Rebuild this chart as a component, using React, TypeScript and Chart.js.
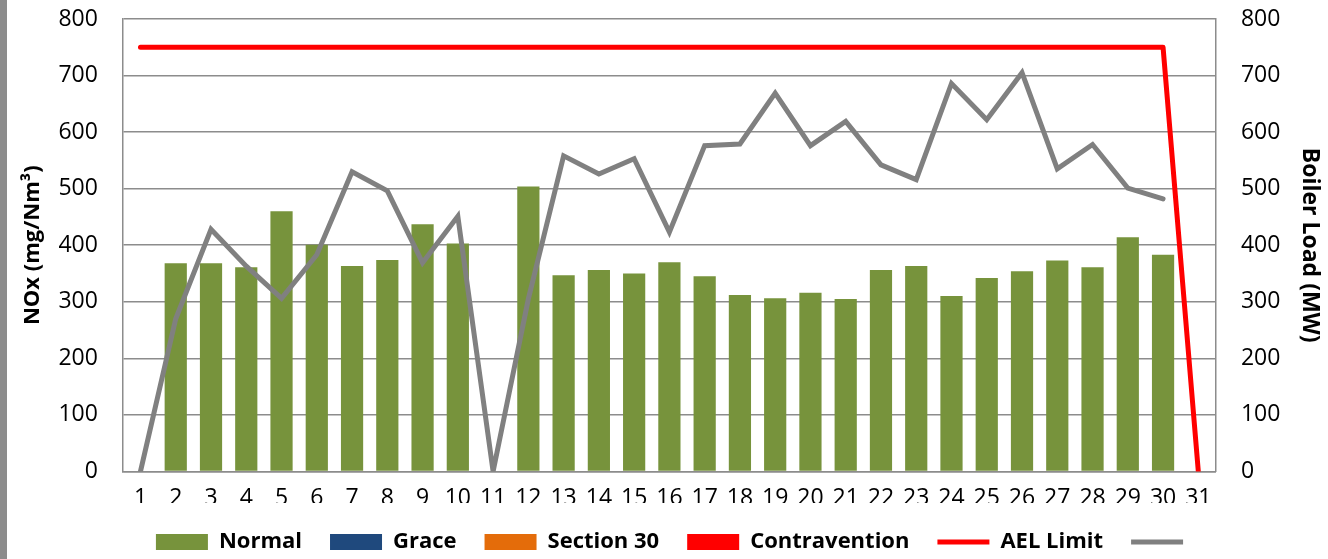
import React, { useEffect, useRef } from "react";
import { Chart, registerables } from "chart.js";

Chart.register(...registerables);

const days = ["1","2","3","4","5","6","7","8","9","10","11","12","13","14","15","16","17","18","19","20","21","22","23","24","25","26","27","28","29","30","31"];
const normal = [null,368,368,361,460,401,363,374,437,403,null,504,347,356,350,370,345,312,306,316,305,356,363,310,342,354,373,361,414,383,null];
const grace: (number | null)[] = days.map(() => null);
const section30: (number | null)[] = days.map(() => null);
const contravention: (number | null)[] = days.map(() => null);
const aelLimit = [750,750,750,750,750,750,750,750,750,750,750,750,750,750,750,750,750,750,750,750,750,750,750,750,750,750,750,750,750,750,0];
const boilerLoad = [0,270,428,363,306,383,530,496,369,451,0,305,558,526,553,423,576,579,669,576,619,542,516,686,622,705,535,578,501,482,null];

const FONT = "'Open Sans', 'DejaVu Sans', sans-serif";
const GRID = "#8c8c8c";

const legendShift = {
  id: "legendShift",
  afterLayout(chart: any) {
    if (chart.legend) {
      chart.legend.left += 5;
      chart.legend.right += 5;
    }
  },
};

export default function App() {
  const ref = useRef<HTMLCanvasElement>(null);
  useEffect(() => {
    const ctx = ref.current!.getContext("2d")!;
    const chart = new Chart(ctx, {
      type: "bar",
      data: {
        labels: days,
        datasets: [
          { type: "bar", label: "Normal", data: normal, backgroundColor: "#77933C", borderWidth: 0, grouped: false, order: 1, yAxisID: "y", pointStyle: "rect" } as any,
          { type: "bar", label: "Grace", data: grace, backgroundColor: "#1F497D", borderWidth: 0, grouped: false, order: 1, yAxisID: "y", pointStyle: "rect" } as any,
          { type: "bar", label: "Section 30", data: section30, backgroundColor: "#E46C0A", borderWidth: 0, grouped: false, order: 1, yAxisID: "y", pointStyle: "rect" } as any,
          { type: "bar", label: "Contravention", data: contravention, backgroundColor: "#FF0000", borderWidth: 0, grouped: false, order: 1, yAxisID: "y", pointStyle: "rect" } as any,
          { type: "line", label: "AEL Limit", data: aelLimit, borderColor: "#FF0000", backgroundColor: "#FF0000", borderWidth: 5, pointRadius: 0, tension: 0, order: 0, yAxisID: "y", pointStyle: "line", borderCapStyle: "round", borderJoinStyle: "round" } as any,
          { type: "line", label: "", data: boilerLoad, borderColor: "#808080", backgroundColor: "#808080", borderWidth: 5, pointRadius: 0, tension: 0, order: 0, yAxisID: "y1", pointStyle: "line", borderCapStyle: "round", borderJoinStyle: "miter", spanGaps: false } as any,
        ],
      },
      options: {
        animation: false,
        responsive: false,
        maintainAspectRatio: false,
        layout: { padding: { left: 8, right: 3, top: 19, bottom: -4 } },
        datasets: { bar: { barPercentage: 0.63, categoryPercentage: 1 } },
        plugins: {
          tooltip: { enabled: false },
          legend: {
            position: "bottom",
            labels: {
              usePointStyle: true,
              pointStyleWidth: 52,
              boxHeight: 16,
              boxWidth: 52,
              padding: 28,
              color: "#000",
              font: { family: FONT, size: 22, weight: "bold" },
              sort: (a: any, b: any) => a.datasetIndex - b.datasetIndex,
            },
          },
        },
        scales: {
          x: {
            offset: true,
            grid: { display: false, drawTicks: false },
            border: { display: true, color: GRID, width: 1.5 },
            ticks: { color: "#000", font: { family: FONT, size: 23 }, padding: 13, maxRotation: 0, autoSkip: false },
            afterFit: (s: any) => { s.height -= 22; },
          },
          y: {
            position: "left",
            min: 0,
            max: 800,
            ticks: { stepSize: 100, color: "#000", font: { family: FONT, size: 23 }, padding: 25 },
            grid: { color: GRID, lineWidth: 1.5, drawTicks: false },
            border: { display: true, color: GRID, width: 1.5 },
            title: { display: true, text: "NOx (mg/Nm³)", color: "#000", font: { family: FONT, size: 22, weight: "bold" }, padding: { top: 5, bottom: 14 } },
            afterFit: (s: any) => { s.width -= 27; s.paddingTop = 0; s.paddingBottom = 0; },
          },
          y1: {
            position: "right",
            min: 0,
            max: 800,
            ticks: { stepSize: 100, color: "#000", font: { family: FONT, size: 23 }, padding: 25 },
            grid: { display: false, drawTicks: false },
            border: { display: true, color: GRID, width: 1.5 },
            title: { display: true, text: "Boiler Load (MW)", color: "#000", font: { family: FONT, size: 23, weight: "bold" }, padding: { top: 2, bottom: 14 } },
            afterFit: (s: any) => { s.width -= 24; s.paddingTop = 0; s.paddingBottom = 0; },
          },
        },
      },
      plugins: [legendShift],
    });
    return () => chart.destroy();
  }, []);
  return (
    <div style={{ position: "fixed", left: 0, top: 0, width: 1328, height: 559, background: "#fff" }}>
      <div style={{ position: "absolute", left: 0, top: 0, width: 7, height: 559, background: "#8c8c8c" }} />
      <canvas ref={ref} width={1321} height={559} style={{ position: "absolute", left: 7, top: 0, width: 1321, height: 559 }} />
    </div>
  );
}
